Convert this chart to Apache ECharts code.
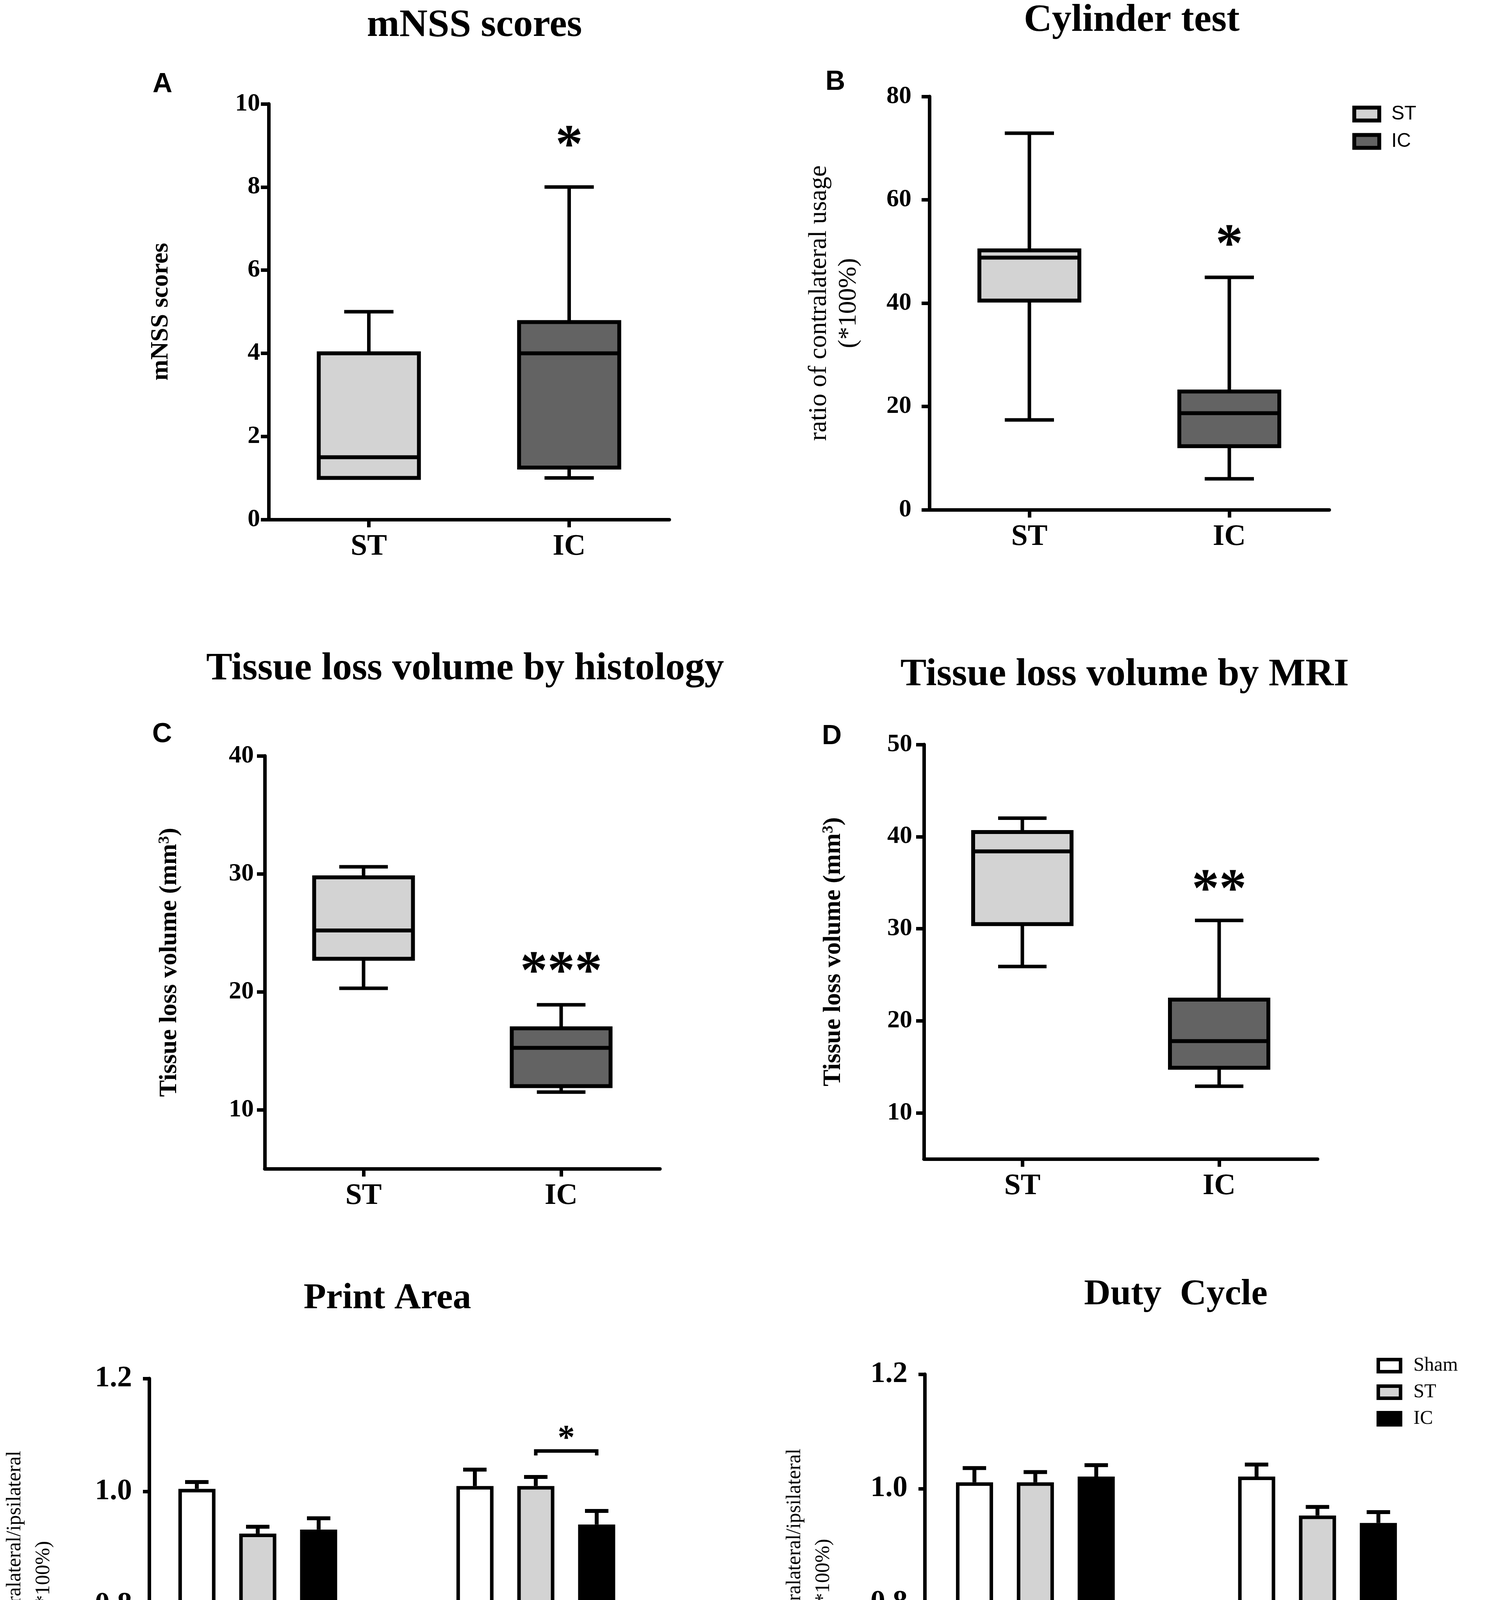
<!DOCTYPE html>
<html>
<head>
<meta charset="utf-8">
<script src="https://cdn.jsdelivr.net/npm/echarts@6.0.0/dist/echarts.min.js"></script>
<style>
  html, body { margin: 0; padding: 0; background: #fff; }
  #chart { width: 3813px; height: 4868px; }
</style>
</head>
<body>
<div id="chart"></div>
<script>
const SERIF = '"Liberation Serif", "Times New Roman", serif';
const SANS = '"Liberation Sans", Arial, sans-serif';
const LIGHT = '#d3d3d3';
const DARK = '#636363';

// box plots, each as [min, Q1, median, Q3, max]
const groups = ['ST', 'IC'];
const mnssST = [1, 1, 1.5, 4, 5];
const mnssIC = [1, 1.25, 4, 4.75, 8];
const cylinderST = [17.4, 40.5, 48.8, 50.2, 72.9];
const cylinderIC = [6, 12.3, 18.7, 22.9, 45];
const histST = [20.3, 22.8, 25.2, 29.7, 30.6];
const histIC = [11.5, 12, 15.25, 16.9, 18.9];
const mriST = [25.9, 30.5, 38.4, 40.5, 42];
const mriIC = [12.9, 14.9, 17.8, 22.3, 30.9];

// significance marks: [category index, y value, text]
const mnssSig = [1, 9.1, '*'];
const cylinderSig = [1, 52.1, '*'];
const histSig = [1, 22.05, '***'];
const mriSig = [1, 34.7, '**'];

// gait analysis, mean and SEM per limb
const limbs = ['Forelimb', 'Hindlimb'];
const printSham = [1.005, 1.010];
const printShamSem = [0.012, 0.029];
const printST = [0.926, 1.010];
const printSTSem = [0.012, 0.016];
const printIC = [0.933, 0.942];
const printICSem = [0.020, 0.024];
const dutySham = [1.011, 1.021];
const dutyShamSem = [0.025, 0.021];
const dutyST = [1.011, 0.953];
const dutySTSem = [0.018, 0.015];
const dutyIC = [1.021, 0.940];
const dutyICSem = [0.020, 0.019];
// ST vs IC in Hindlimb: [limb index, bar from, bar to, y, text]
const printSig = [1, 1, 2, 1.072, '*'];

const histTicks = [10, 20, 30, 40];
const mriTicks = [10, 20, 30, 40, 50];
const gaitTicks = [0.6, 0.8, 1.0, 1.2];

const BAR_W = 95;
const BAR_STEP = 156;   // bar width + gap
const barOffsets = [-1.5, -0.5, 0.5].map(k => k * BAR_STEP);

let chart = echarts.init(document.getElementById('chart'));

function boxRender(params, api) {
  const cat = api.value(0);
  const band = api.size([1, 0])[0];
  const half = band * 0.25;
  const cap = band * 0.123;
  const p = i => api.coord([cat, api.value(i)]);
  const lo = p(1), q1 = p(2), med = p(3), q3 = p(4), hi = p(5);
  const x = lo[0];
  const ln = { stroke: '#000', lineWidth: 9 };
  return {
    type: 'group',
    children: [
      { type: 'line', shape: { x1: x, y1: hi[1], x2: x, y2: q3[1] }, style: ln },
      { type: 'line', shape: { x1: x, y1: lo[1], x2: x, y2: q1[1] }, style: ln },
      { type: 'line', shape: { x1: x - cap, y1: hi[1], x2: x + cap, y2: hi[1] }, style: ln },
      { type: 'line', shape: { x1: x - cap, y1: lo[1], x2: x + cap, y2: lo[1] }, style: ln },
      { type: 'rect', shape: { x: x - half, y: q3[1], width: half * 2, height: q1[1] - q3[1] },
        style: { fill: api.visual('color'), stroke: '#000', lineWidth: 10 } },
      { type: 'line', shape: { x1: x - half, y1: med[1], x2: x + half, y2: med[1] }, style: { stroke: '#000', lineWidth: 10 } }
    ]
  };
}

function sigRender(mark, fontSize) {
  return function (params, api) {
    const pt = api.coord([api.value(0), api.value(1)]);
    return {
      type: 'text', x: pt[0], y: pt[1] + fontSize * 0.12,
      style: { text: mark[2], fill: '#000', font: 'bold ' + fontSize + 'px ' + SERIF, textAlign: 'center', textVerticalAlign: 'middle' }
    };
  };
}

function errRender(offset) {
  return function (params, api) {
    const cat = api.value(0);
    const base = api.coord([cat, api.value(1)]);
    const top = api.coord([cat, api.value(1) + api.value(2)]);
    const x = base[0] + offset;
    return {
      type: 'group',
      children: [
        { type: 'line', shape: { x1: x, y1: base[1], x2: x, y2: top[1] }, style: { stroke: '#000', lineWidth: 10 } },
        { type: 'line', shape: { x1: x - 30, y1: top[1], x2: x + 30, y2: top[1] }, style: { stroke: '#000', lineWidth: 10 } }
      ]
    };
  };
}

function bracketRender(params, api) {
  const cat = api.value(0);
  const mid = api.coord([cat, api.value(3)]);
  const end = api.coord([cat, api.value(3) - 0.008]);
  const x1 = mid[0] + barOffsets[api.value(1)];
  const x2 = mid[0] + barOffsets[api.value(2)];
  const star = api.coord([cat, api.value(3) + 0.027]);
  return {
    type: 'group',
    children: [
      { type: 'polyline', shape: { points: [[x1, end[1]], [x1, mid[1]], [x2, mid[1]], [x2, end[1]]] },
        style: { stroke: '#000', lineWidth: 9, fill: null } },
      { type: 'text', x: (x1 + x2) / 2, y: star[1] + 10,
        style: { text: printSig[4], fill: '#000', font: 'bold 88px ' + SERIF, textAlign: 'center', textVerticalAlign: 'middle' } }
    ]
  };
}

const axisLineStyle = { color: '#000', width: 9 };

function catAxis(gridIndex, data, extra) {
  return Object.assign({
    type: 'category', gridIndex: gridIndex, data: data, boundaryGap: true,
    axisLine: { show: true, lineStyle: axisLineStyle },
    axisTick: { show: true, alignWithLabel: true, length: 20, lineStyle: { color: '#000', width: 9 } },
    axisLabel: { color: '#000', fontFamily: SERIF, fontWeight: 'bold', fontSize: 76, margin: 32 },
    splitLine: { show: false }
  }, extra || {});
}

function valAxis(gridIndex, min, max, extra, label) {
  return Object.assign({
    type: 'value', gridIndex: gridIndex, min: min, max: max,
    axisLine: { show: true, lineStyle: axisLineStyle },
    axisTick: Object.assign({ show: true, length: 20, lineStyle: { color: '#000', width: 9 } }, label.tick || {}),
    axisLabel: Object.assign({ color: '#000', fontFamily: SERIF, fontWeight: 'bold', fontSize: 64, margin: 28 }, label.label || {}),
    splitLine: { show: false },
    nameLocation: 'middle', nameRotate: 90, nameMoveOverlap: false
  }, extra);
}

const boxNameStyle = { color: '#000', fontFamily: SERIF, fontWeight: 'bold', fontSize: 64 };
const ratioNameStyle = { color: '#000', fontFamily: SERIF, fontWeight: 'normal', fontSize: 52, lineHeight: 74 };
const supStyle = { color: '#000', fontFamily: SERIF, fontWeight: 'bold', fontSize: 40, verticalAlign: 'top' };

function boxSeries(idx, st, ic, sig, sigSize) {
  return [
    { type: 'custom', name: 'ST', xAxisIndex: idx, yAxisIndex: idx, renderItem: boxRender,
      itemStyle: { color: LIGHT }, encode: { x: 0, y: [1, 2, 3, 4, 5] }, data: [[0].concat(st)] },
    { type: 'custom', name: 'IC', xAxisIndex: idx, yAxisIndex: idx, renderItem: boxRender,
      itemStyle: { color: DARK }, encode: { x: 0, y: [1, 2, 3, 4, 5] }, data: [[1].concat(ic)] },
    { type: 'custom', name: 'sig' + idx, xAxisIndex: idx, yAxisIndex: idx, renderItem: sigRender(sig, sigSize),
      encode: { x: 0, y: 1 }, data: [[sig[0], sig[1]]], z: 5 }
  ];
}

function gaitSeries(idx, sham, shamSem, st, stSem, ic, icSem) {
  const bars = [
    { name: 'Sham', color: '#fff', v: sham, e: shamSem },
    { name: 'ST', color: LIGHT, v: st, e: stSem },
    { name: 'IC', color: '#000', v: ic, e: icSem }
  ];
  const out = [];
  bars.forEach((b, k) => {
    out.push({
      type: 'bar', name: b.name, xAxisIndex: idx, yAxisIndex: idx, data: b.v,
      barWidth: BAR_W, barGap: '64%', z: 3,
      itemStyle: { color: b.color, borderColor: '#000', borderWidth: 9 }
    });
    out.push({
      type: 'custom', name: b.name + ' SEM', xAxisIndex: idx, yAxisIndex: idx, renderItem: errRender(barOffsets[k]),
      encode: { x: 0, y: [1, 2] }, z: 2,
      data: b.v.map((v, i) => [i, v, b.e[i]])
    });
  });
  // empty slot: keeps the three bars left of the tick as in the original layout
  out.push({ type: 'bar', name: 'slot', xAxisIndex: idx, yAxisIndex: idx, data: [], barWidth: BAR_W, barGap: '64%' });
  return out;
}

const titleStyle = size => ({ color: '#000', fontFamily: SERIF, fontWeight: 'bold', fontSize: size });
const letterStyle = { color: '#000', fontFamily: SANS, fontWeight: 'bold', fontSize: 70 };
const limbLabel = { color: '#000', fontFamily: SERIF, fontSize: 76, rotate: 45, margin: 90 };
const limbTick = { show: true, alignWithLabel: true, length: 18, lineStyle: { color: '#000', width: 9 } };
const gaitLabel = { customValues: gaitTicks, fontSize: 76, margin: 44, formatter: v => v.toFixed(1) };

let option = {
  backgroundColor: '#fff',
  animation: false,
  title: [
    { text: 'mNSS scores', left: 1210, top: 11, textAlign: 'center', textStyle: titleStyle(100) },
    { text: 'Cylinder test', left: 2893, top: -2, textAlign: 'center', textStyle: titleStyle(100) },
    { text: 'Tissue loss volume by histology', left: 1186, top: 1658, textAlign: 'center', textStyle: titleStyle(100) },
    { text: 'Tissue loss volume by MRI', left: 2875, top: 1673, textAlign: 'center', textStyle: titleStyle(100) },
    { text: 'Print Area', left: 987, top: 3273, textAlign: 'center', textStyle: titleStyle(94) },
    { text: 'Duty  Cycle', left: 3006, top: 3263, textAlign: 'center', textStyle: titleStyle(94) },
    { text: 'A', left: 411, top: 177, textAlign: 'center', textStyle: letterStyle },
    { text: 'B', left: 2134, top: 171, textAlign: 'center', textStyle: letterStyle },
    { text: 'C', left: 410, top: 1841, textAlign: 'center', textStyle: letterStyle },
    { text: 'D', left: 2125, top: 1846, textAlign: 'center', textStyle: letterStyle }
  ],
  legend: [
    { orient: 'vertical', left: 3458, top: 262, itemWidth: 64, itemHeight: 33, itemGap: 20, icon: 'rect',
      selectedMode: false,
      textStyle: { color: '#000', fontFamily: SANS, fontSize: 50, padding: [0, 0, 0, 26] },
      data: [
        { name: 'ST', itemStyle: { color: LIGHT, borderColor: '#000', borderWidth: 10 } },
        { name: 'IC', itemStyle: { color: DARK, borderColor: '#000', borderWidth: 10 } }
      ] },
    { orient: 'vertical', left: 3520, top: 3466, itemWidth: 57, itemHeight: 31, itemGap: 18, icon: 'rect',
      selectedMode: false,
      textStyle: { color: '#000', fontFamily: SERIF, fontSize: 50, padding: [0, 0, 0, 28] },
      data: [
        { name: 'Sham', itemStyle: { color: '#fff', borderColor: '#000', borderWidth: 9 } },
        { name: 'ST', itemStyle: { color: LIGHT, borderColor: '#000', borderWidth: 9 } },
        { name: 'IC', itemStyle: { color: '#000', borderColor: '#000', borderWidth: 9 } }
      ] }
  ],
  grid: [
    { left: 688, top: 266, width: 1026, height: 1064 },
    { left: 2380, top: 247, width: 1024, height: 1058 },
    { left: 678, top: 1935, width: 1012, height: 1057 },
    { left: 2366, top: 1906, width: 1008, height: 1061 },
    { left: 360, top: 3529, width: 1446, height: 1054 },
    { left: 2368, top: 3518, width: 1445, height: 1058 }
  ],
  xAxis: [
    catAxis(0, groups),
    catAxis(1, groups),
    catAxis(2, groups),
    catAxis(3, groups),
    catAxis(4, limbs, { axisLabel: limbLabel, axisTick: limbTick }),
    catAxis(5, limbs, { axisLabel: limbLabel, axisTick: limbTick })
  ],
  yAxis: [
    valAxis(0, 0, 10, { interval: 2, name: 'mNSS scores', nameGap: 244, nameTextStyle: boxNameStyle },
      { label: { margin: 22 } }),
    valAxis(1, 0, 80, { interval: 20, name: 'ratio of contralateral usage\n(*100%)', nameGap: 168,
      nameTextStyle: { color: '#000', fontFamily: SERIF, fontWeight: 'normal', fontSize: 66, lineHeight: 76 } },
      { label: { margin: 46 } }),
    valAxis(2, 5, 40, { name: '{t|Tissue loss volume (mm}{s|3}{t|)}', nameGap: 212,
      nameTextStyle: { rich: { t: boxNameStyle, s: supStyle } } },
      { tick: { customValues: histTicks }, label: { customValues: histTicks, margin: 28 } }),
    valAxis(3, 5, 50, { name: '{t|Tissue loss volume (mm}{s|3}{t|)}', nameGap: 200,
      nameTextStyle: { rich: { t: boxNameStyle, s: supStyle } } },
      { tick: { customValues: mriTicks }, label: { customValues: mriTicks, margin: 30 } }),
    valAxis(4, 0.5, 1.2, { name: 'ratio of contralateral/ipsilateral\n(*100%)', nameGap: 233, nameTextStyle: ratioNameStyle },
      { tick: { customValues: gaitTicks, length: 16 }, label: gaitLabel }),
    valAxis(5, 0.5, 1.2, { name: 'ratio of contralateral/ipsilateral\n(*100%)', nameGap: 222, nameTextStyle: ratioNameStyle },
      { tick: { customValues: gaitTicks, length: 16 }, label: gaitLabel })
  ],
  series: [].concat(
    boxSeries(0, mnssST, mnssIC, mnssSig, 140),
    boxSeries(1, cylinderST, cylinderIC, cylinderSig, 140),
    boxSeries(2, histST, histIC, histSig, 140),
    boxSeries(3, mriST, mriIC, mriSig, 140),
    gaitSeries(4, printSham, printShamSem, printST, printSTSem, printIC, printICSem),
    gaitSeries(5, dutySham, dutyShamSem, dutyST, dutySTSem, dutyIC, dutyICSem),
    [{ type: 'custom', name: 'bracket', xAxisIndex: 4, yAxisIndex: 4, renderItem: bracketRender, z: 5,
       encode: { x: 0, y: 3 }, data: [printSig.slice(0, 4)] }]
  )
};

chart.setOption(option);
</script>
</body>
</html>
